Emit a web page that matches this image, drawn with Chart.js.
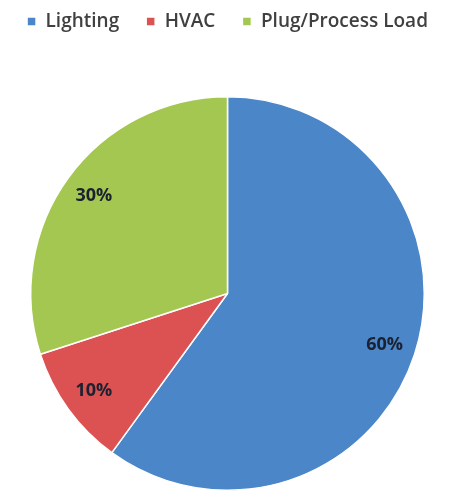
<!DOCTYPE html>
<html>
<head>
<meta charset="utf-8">
<script src="https://cdn.jsdelivr.net/npm/chart.js@4"></script>
<style>
  html, body { margin: 0; padding: 0; background: #fff; }
  #wrap { width: 455px; height: 493px; }
</style>
</head>
<body>
<div id="wrap"><canvas id="loadChart"></canvas></div>
<script>
const categories = ['Lighting', 'HVAC', 'Plug/Process Load'];
const shares = [60, 10, 30];
const sliceColors = ['#4a86c8', '#dc5252', '#a3c750'];

// extra room under the legend, like the original
const legendGap = {
    id: 'legendGap',
    beforeInit(chart) {
        const fit = chart.legend.fit;
        chart.legend.fit = function () {
            fit.bind(chart.legend)();
            this.height += 55;
        };
    }
};

// percent labels inside the slices
const sliceLabels = {
    id: 'sliceLabels',
    afterDatasetsDraw(chart) {
        const ctx = chart.ctx;
        const meta = chart.getDatasetMeta(0);
        ctx.save();
        ctx.font = 'bold 18px "Open Sans"';
        ctx.fillStyle = '#1b2130';
        ctx.textAlign = 'center';
        ctx.textBaseline = 'middle';
        meta.data.forEach((arc, i) => {
            const mid = (arc.startAngle + arc.endAngle) / 2;
            const r = arc.outerRadius * 0.84;
            ctx.fillText(shares[i] + '%', arc.x + Math.cos(mid) * r, arc.y + Math.sin(mid) * r);
        });
        ctx.restore();
    }
};

new Chart(document.getElementById('loadChart'), {
    type: 'pie',
    data: {
        labels: categories,
        datasets: [{
            data: shares,
            backgroundColor: sliceColors,
            borderColor: '#ffffff',
            borderWidth: 1.5
        }]
    },
    options: {
        responsive: true,
        maintainAspectRatio: false,
        animation: false,
        layout: { padding: { top: -15, bottom: 2, left: 0, right: 0 } },
        plugins: {
            legend: {
                position: 'top',
                labels: {
                    boxWidth: 9,
                    boxHeight: 9,
                    padding: 27,
                    color: '#404040',
                    font: { family: 'Open Sans', size: 19, weight: '600' }
                }
            },
            tooltip: { enabled: false }
        }
    },
    plugins: [legendGap, sliceLabels]
});
</script>
</body>
</html>
